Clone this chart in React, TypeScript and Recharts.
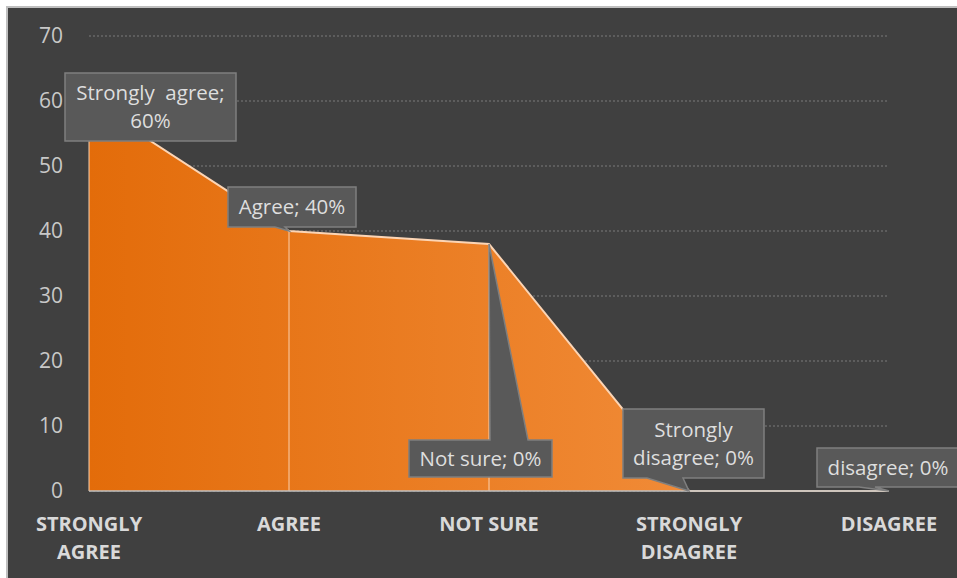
import React from 'react';
import { AreaChart, Area, XAxis, YAxis, CartesianGrid, ReferenceLine, LabelList } from 'recharts';

const categories = ['STRONGLY AGREE', 'AGREE', 'NOT SURE', 'STRONGLY DISAGREE', 'DISAGREE'];
const tickLines = [['STRONGLY', 'AGREE'], ['AGREE'], ['NOT SURE'], ['STRONGLY', 'DISAGREE'], ['DISAGREE']];
const values = [60, 40, 38, 0, 0];
const calloutText = [['Strongly  agree;', '60%'], ['Agree; 40%'], ['Not sure; 0%'], ['Strongly', 'disagree; 0%'], ['disagree; 0%']];
const yTicks = [0, 10, 20, 30, 40, 50, 60, 70];

const data = categories.map((c, i) => ({ name: c, value: values[i] }));

// callout boxes, relative to the data point they belong to
const calloutLayout = [
    { dx: -24, dy: -28, w: 171, h: 68, side: 'none', p1: 0, p2: 0 },
    { dx: -61, dy: -44, w: 128, h: 40, side: 'bottom', p1: -14, p2: -4 },
    { dx: -80, dy: 196, w: 143, h: 37, side: 'top', p1: 1, p2: 39 },
    { dx: -66, dy: -82, w: 141, h: 69, side: 'bottom', p1: -42, p2: -6 },
    { dx: -72, dy: -43, w: 142, h: 39, side: 'bottom', p1: -30, p2: -14 },
];

const FONT = '"Open Sans", sans-serif';

const Callout = (props: any) => {
    const { index } = props;
    const x = props.x ?? props.viewBox?.x;
    const y = props.y ?? props.viewBox?.y;
    const l = calloutLayout[index];
    const lines = calloutText[index];
    if (!l || x == null || y == null) return null;
    const x0 = x + l.dx;
    const y0 = y + l.dy;
    const x1 = x0 + l.w;
    const y1 = y0 + l.h;
    let d = `M${x0},${y0} H${x1} V${y1} H${x0} Z`;
    if (l.side === 'bottom') {
        d = `M${x0},${y0} H${x1} V${y1} H${x + l.p2} L${x},${y} L${x + l.p1},${y1} H${x0} Z`;
    } else if (l.side === 'top') {
        d = `M${x0},${y0} H${x + l.p1} L${x},${y} L${x + l.p2},${y0} H${x1} V${y1} H${x0} Z`;
    }
    const lineH = 28;
    const cy = y0 + l.h / 2 - ((lines.length - 1) * lineH) / 2;
    return (
        <g>
            <path d={d} fill="#595959" stroke="#7f7f7f" strokeWidth={1.5} />
            <text x={x0 + l.w / 2} textAnchor="middle" fill="#dedede" fontSize={20.5} fontFamily={FONT} style={{ whiteSpace: 'pre' }}>
                {lines.map((t, i) => (
                    <tspan key={i} x={x0 + l.w / 2} y={cy + i * lineH} dy="0.35em">{t}</tspan>
                ))}
            </text>
        </g>
    );
};

const XTick = (props: any) => {
    const { x, y, index } = props;
    const lines = tickLines[index] || [];
    return (
        <text x={x} y={y} textAnchor="middle" fill="#d9d9d9" fontSize={20} fontWeight="bold" fontFamily={FONT}>
            {lines.map((t, i) => (
                <tspan key={i} x={x} y={y + 40 + i * 28}>{t}</tspan>
            ))}
        </text>
    );
};

export default function App() {
    return (
        <div style={{ position: 'absolute', left: 6, top: 6, width: 960, height: 580, background: '#404040', border: '2px solid #bfbfbf', overflow: 'hidden' }}>
            <AreaChart width={949} height={570} data={data} margin={{ top: 28, right: 68, left: 41, bottom: 27 }}>
                <defs>
                    <linearGradient id="orangeFill" x1="0" y1="0" x2="1" y2="0">
                        <stop offset="0%" stopColor="#e36c0a" />
                        <stop offset="100%" stopColor="#f59546" />
                    </linearGradient>
                </defs>
                <CartesianGrid vertical={false} stroke="#7a7a7a" strokeDasharray="2 2" />
                <XAxis
                    dataKey="name"
                    tick={<XTick />}
                    tickLine={false}
                    tickSize={0}
                    tickMargin={0}
                    height={60}
                    axisLine={{ stroke: '#bfbfbf', strokeWidth: 1.5 }}
                    interval={0}
                />
                <YAxis
                    domain={[0, 70]}
                    ticks={yTicks}
                    width={40}
                    axisLine={false}
                    tickLine={false}
                    tickSize={0}
                    tickMargin={26}
                    tick={{ fill: '#c8c8c8', fontSize: 21, fontFamily: FONT }}
                />
                <Area
                    type="linear"
                    dataKey="value"
                    fill="url(#orangeFill)"
                    fillOpacity={1}
                    stroke="#fcd5b5"
                    strokeWidth={2}
                    isAnimationActive={false}
                    dot={false}
                    activeDot={false}
                />
                {data.map((d) => (
                    <ReferenceLine
                        key={d.name}
                        segment={[{ x: d.name, y: 0 }, { x: d.name, y: d.value }]}
                        stroke="#fbd0ad"
                        strokeWidth={1}
                    />
                ))}
                <Area
                    type="linear"
                    dataKey="value"
                    fill="none"
                    stroke="none"
                    isAnimationActive={false}
                    dot={false}
                    activeDot={false}
                >
                    <LabelList dataKey="value" content={<Callout />} />
                </Area>
            </AreaChart>
        </div>
    );
}
